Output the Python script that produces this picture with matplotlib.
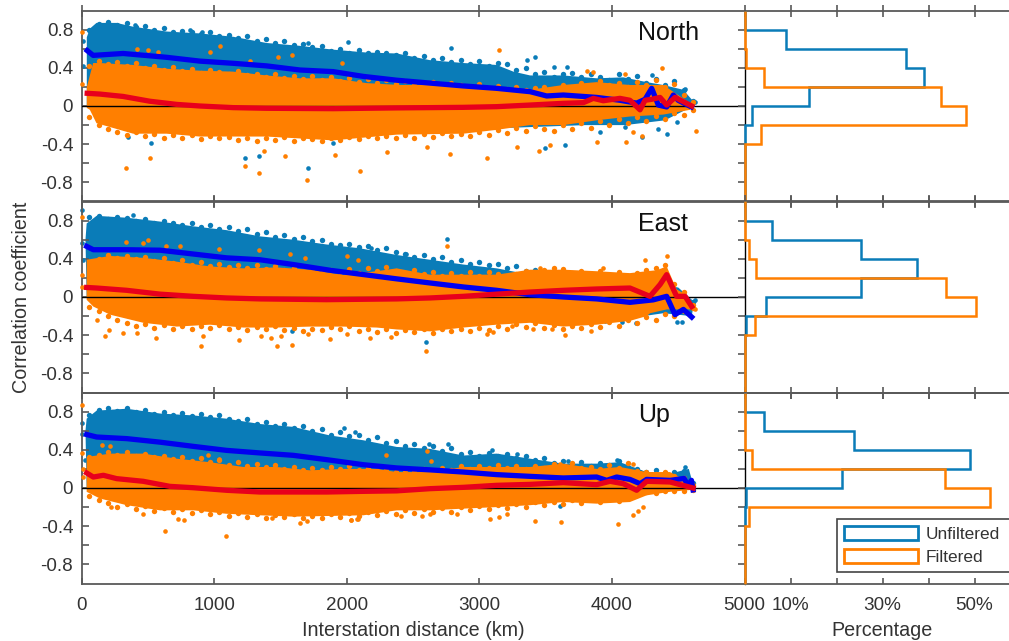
import matplotlib
matplotlib.use("Agg")
import matplotlib.pyplot as plt
from matplotlib.patches import Patch, Rectangle
from matplotlib.ticker import FixedLocator, FixedFormatter

plt.rcParams['font.family'] = ['Liberation Sans', 'DejaVu Sans']

# distances where the rough edge of each point cloud was read off
fringe_km = [60, 130, 200, 270, 340, 410, 480, 550, 620, 690, 760, 830, 900, 970, 1040, 1110, 1180, 1250, 1320, 1390, 1460, 1530, 1600, 1670, 1740, 1810, 1880, 1950, 2020, 2090, 2160, 2230, 2300, 2370, 2440, 2510, 2580, 2650, 2720, 2790, 2860, 2930, 3000, 3070, 3140, 3210, 3280, 3350, 3420, 3490, 3560, 3630, 3700, 3770, 3840, 3910, 3980, 4050, 4120, 4190, 4260, 4330, 4400, 4470, 4540, 4610]

# ---- North ----
n_bt_x = [40, 63, 113, 264, 390, 641, 892, 1144, 1395, 1647, 1898, 2149, 2377, 2628, 2880, 3130, 3257, 3383, 3634, 3885, 4086, 4262, 4387, 4538, 4613]
n_bt_y = [.72, .81, .87, .87, .83, .78, .76, .725, .66, .63, .59, .56, .55, .48, .45, .43, .36, .32, .32, .29, .30, .25, .22, .17, .05]
n_bb_x = [40, 113, 1000, 2000, 3000, 3400, 3800, 4100, 4400, 4613]
n_bb_y = [0, -.1, -.25, -.28, -.24, -.22, -.2, -.2, -.15, 0]
n_ot_x = [40, 88, 138, 390, 641, 892, 1144, 1395, 1647, 1898, 2149, 2400, 2628, 2880, 3130, 3383, 3634, 3885, 4136, 4387, 4590]
n_ot_y = [.2, .45, .45, .43, .39, .37, .36, .32, .29, .29, .24, .22, .22, .22, .185, .17, .22, .25, .22, .22, .03]
n_ob_x = [40, 63, 113, 390, 641, 892, 1395, 1898, 2377, 2880, 3130, 3383, 3634, 3885, 4136, 4387, 4590]
n_ob_y = [-.02, -.04, -.18, -.29, -.29, -.32, -.32, -.36, -.30, -.29, -.25, -.2, -.2, -.15, -.11, -.09, -.04]
n_fr_bt = [.80, .86, .88, .85, .87, .83, .84, .80, .82, .78, .79, .77, .75, .78, .73, .74, .71, .73, .68, .70, .66, .68, .64, .65, .62, .63, .58, .60, .56, .59, .55, .57, .56, .53, .55, .50, .52, .48, .50, .46, .48, .44, .47, .42, .45, .44, .38, .40, .33, .36, .30, .33, .35, .30, .34, .30, .27, .34, .28, .31, .24, .28, .22, .26, .17, .05]
n_fr_ot = [.42, .47, .44, .46, .42, .45, .40, .42, .38, .41, .37, .39, .35, .38, .36, .33, .37, .32, .34, .30, .33, .29, .31, .28, .31, .27, .30, .26, .29, .25, .28, .24, .27, .23, .26, .24, .22, .25, .21, .24, .22, .20, .23, .19, .21, .18, .20, .17, .19, .20, .18, .22, .19, .24, .21, .26, .22, .24, .20, .25, .22, .27, .20, .23, .12, .04]
n_fr_ob = [-.12, -.2, -.24, -.27, -.3, -.27, -.31, -.29, -.33, -.3, -.34, -.3, -.35, -.31, -.34, -.32, -.36, -.33, -.37, -.34, -.36, -.32, -.37, -.33, -.35, -.37, -.33, -.36, -.32, -.35, -.31, -.34, -.31, -.33, -.3, -.33, -.29, -.32, -.28, -.31, -.29, -.31, -.27, -.3, -.25, -.28, -.23, -.26, -.21, -.24, -.26, -.2, -.24, -.18, -.23, -.16, -.2, -.14, -.18, -.12, -.16, -.1, -.14, -.07, -.09, -.04]
n_line_b_x = [43, 88, 314, 641, 892, 1144, 1395, 1647, 1898, 2125, 2377, 2628, 2880, 3130, 3383, 3508, 3634, 3885, 4060, 4186, 4250, 4300, 4350, 4413, 4463, 4500, 4600]
n_line_b_y = [.58, .53, .55, .51, .47, .447, .42, .377, .36, .31, .27, .24, .21, .185, .15, .105, .115, .09, .06, .03, .07, .185, .01, -.01, .115, .06, -.01]
n_line_r_x = [43, 138, 314, 515, 716, 892, 1144, 1395, 1898, 2377, 2880, 3130, 3383, 3634, 3785, 3860, 3935, 4060, 4136, 4212, 4250, 4300, 4363, 4413, 4476, 4602]
n_line_r_y = [.133, .125, .1, .05, .017, 0, -.017, -.024, -.028, -.02, -.014, -.007, .01, .028, .035, .08, .055, .08, .06, -.04, .06, .07, .09, .01, .09, 0]
n_dots_o_x = [0, 0, 339, 520, 1232, 1335, 1704, 2099, 1533, 1378, 1043, 968, 415, 503, 578, 1270, 1483, 1584, 1961, 3149, 3056, 4632, 4375, 3810, 3860, 4100, 4106, 3453, 3533, 3282, 2779, 1912, 2301, 2603, 3885, 4225, 4162]
n_dots_o_y = [.78, .23, -.645, -.54, -.625, -.70, -.78, -.68, -.52, -.47, .63, .57, .6, .59, .57, .475, .515, .53, .45, .586, -.54, -.265, .40, .366, .36, .34, -.38, -.475, -.41, -.426, -.506, -.51, -.478, -.426, -.373, -.314, -.27]
n_dots_b_x = [10, 10, 400, 817, 905, 1710, 2011, 1232, 1337, 1710, 523, 352, 1898, 2784, 3420, 3357, 3563, 3664, 3646, 3495, 4488, 4413, 4350, 4225, 4099, 3910, 4300, 4551, 4627]
n_dots_b_y = [.68, .42, .85, .80, .77, .656, .67, -.548, -.52, -.653, -.39, -.32, -.39, .61, .51, .48, .41, .405, -.41, -.436, -.164, -.29, -.244, -.32, -.216, -.27, .325, .178, .04]

# ---- East ----
e_bt_x = [30, 39, 114, 341, 592, 843, 1094, 1346, 1597, 1848, 2100, 2377, 2628, 2880, 3131, 3383, 3634, 4500, 4620]
e_bt_y = [.6, .77, .85, .83, .79, .74, .70, .635, .60, .55, .51, .44, .39, .34, .30, .234, .18, .1, -.05]
e_bb_x = [39, 500, 1500, 2500, 3383, 3634, 3885, 4136, 4388, 4602]
e_bb_y = [0, -.2, -.28, -.3, -.2, -.24, -.22, -.22, -.17, -.2]
e_ot_x = [39, 215, 466, 718, 969, 1221, 1472, 1723, 1975, 2226, 2377, 2628, 2880, 3131, 3383, 3634, 3885, 4136, 4262, 4337, 4413, 4488, 4564, 4602]
e_ot_y = [.39, .43, .41, .37, .32, .30, .31, .286, .23, .27, .30, .234, .234, .234, .286, .286, .27, .25, .27, .28, .32, .08, .02, -.1]
e_ob_x = [39, 89, 215, 466, 718, 969, 1221, 1472, 1723, 1975, 2226, 2377, 2628, 2880, 3131, 3383, 3634, 3885, 4136, 4262, 4288, 4413, 4602]
e_ob_y = [-.03, -.1, -.185, -.27, -.31, -.29, -.32, -.32, -.31, -.31, -.32, -.34, -.36, -.32, -.29, -.27, -.31, -.29, -.25, -.2, -.17, -.13, -.13]
e_fr_bt = [.84, .85, .82, .84, .83, .80, .82, .78, .80, .77, .75, .78, .73, .75, .71, .73, .69, .71, .66, .68, .63, .65, .61, .63, .59, .6, .56, .54, .56, .52, .53, .49, .51, .47, .45, .42, .44, .40, .42, .37, .39, .35, .37, .33, .35, .3, .32, .27, .28, .24, .2, .15, .15, .1, .1, .08, .08, .08, .06, .05, .1, .1, .1, .08, .0, -.05]
e_fr_ot = [.36, .4, .44, .41, .43, .4, .42, .38, .41, .36, .39, .34, .37, .32, .35, .31, .34, .3, .33, .29, .32, .28, .3, .26, .29, .25, .28, .26, .29, .25, .3, .27, .31, .27, .25, .28, .24, .26, .22, .25, .22, .26, .22, .26, .24, .2, .24, .27, .23, .28, .3, .29, .25, .27, .24, .27, .23, .26, .22, .25, .28, .3, .34, .14, .05, -.08]
e_fr_ob = [-.1, -.15, -.2, -.24, -.27, -.3, -.28, -.32, -.29, -.33, -.3, -.34, -.3, -.32, -.29, -.33, -.31, -.35, -.31, -.34, -.3, -.35, -.32, -.36, -.33, -.35, -.31, -.34, -.3, -.36, -.33, -.37, -.34, -.38, -.35, -.37, -.33, -.38, -.34, -.36, -.33, -.36, -.32, -.35, -.3, -.33, -.28, -.31, -.27, -.32, -.29, -.33, -.3, -.32, -.28, -.31, -.26, -.3, -.24, -.27, -.21, -.24, -.18, -.2, -.15, -.12]
e_line_b_x = [39, 89, 341, 592, 843, 1094, 1346, 1597, 1874, 2125, 2377, 2628, 2880, 3131, 3383, 3634, 3885, 4136, 4312, 4413, 4476, 4539, 4602]
e_line_b_y = [.53, .495, .495, .49, .45, .41, .39, .34, .28, .235, .19, .147, .105, .07, .024, 0, -.02, -.056, -.03, .007, -.185, -.13, -.21]
e_line_r_x = [39, 114, 341, 592, 843, 1094, 1346, 1848, 2377, 2628, 2880, 3131, 3383, 3634, 3885, 4136, 4287, 4363, 4413, 4488, 4552, 4602]
e_line_r_y = [.10, .094, .07, .03, .007, -.01, -.02, -.028, -.02, -.01, .007, .03, .052, .07, .084, .094, .007, .13, .234, .007, .007, -.1]
e_dots_o_x = [0, 0, 0, 336, 466, 504, 637, 743, 1037, 1339, 1572, 1686, 2000, 2088, 177, 207, 119, 311, 416, 562, 901, 919, 1190, 1354, 1427, 1472, 1502, 1585, 1711, 1875, 2005, 2177, 2334, 2754, 2598, 3056, 3106, 3244, 3646, 3840, 3546, 3402, 4250, 4413, 3458, 3935, 4627]
e_dots_o_y = [.84, .234, .1, .58, .57, .593, .53, .53, .5, .49, .45, .41, .43, .39, -.41, -.35, -.24, -.38, -.38, -.43, -.51, -.405, -.447, -.41, -.43, -.517, -.405, -.506, -.387, -.436, -.387, -.43, -.42, .5375, -.57, -.387, -.367, -.307, -.4, -.36, -.335, -.335, .39, .426, .30, .30, -.13]
e_dots_b_x = [0, 0, 14, 390, 1585, 2754, 2598, 2181, 2447, 4627, 4526, 4488, 4074, 3948, 4182]
e_dots_b_y = [.915, .565, .39, .86, -.36, .607, -.468, .51, .45, -.035, -.265, -.265, -.265, -.255, -.27]

# ---- Up ----
u_bt_x = [30, 39, 114, 341, 592, 843, 1094, 1346, 1597, 1874, 2125, 2377, 2628, 2880, 3131, 3383, 3634, 3885, 4061, 4262, 4438, 4580, 4610]
u_bt_y = [.6, .726, .81, .83, .78, .76, .726, .67, .64, .55, .5, .43, .41, .34, .36, .307, .255, .255, .27, .167, .15, .2, .05]
u_bb_x = [39, 500, 1500, 2500, 3500, 4036, 4136, 4262, 4438, 4600]
u_bb_y = [0, -.15, -.25, -.2, -.12, -.13, -.13, -.05, -.02, -.02]
u_ot_x = [39, 215, 466, 718, 969, 1221, 1472, 1723, 1975, 2226, 2377, 2628, 2880, 3131, 3383, 3634, 3885, 4061, 4262, 4438, 4600]
u_ot_y = [.325, .36, .36, .307, .27, .22, .22, .185, .2, .2, .167, .167, .22, .22, .22, .255, .2, .22, .167, .167, .05]
u_ob_x = [39, 139, 341, 592, 843, 1094, 1346, 1597, 2125, 2377, 2628, 2880, 3131, 3383, 3634, 3885, 4136, 4262, 4438, 4600]
u_ob_y = [-.04, -.11, -.18, -.234, -.234, -.27, -.286, -.30, -.286, -.234, -.234, -.216, -.2, -.18, -.147, -.164, -.147, -.077, -.04, -.02]
u_fr_bt = [.76, .82, .84, .81, .84, .8, .82, .78, .8, .76, .79, .75, .77, .74, .76, .72, .7, .72, .67, .69, .65, .67, .63, .65, .6, .62, .56, .59, .54, .56, .5, .53, .47, .49, .44, .46, .42, .44, .39, .42, .36, .38, .34, .37, .33, .36, .31, .34, .29, .31, .26, .28, .25, .27, .23, .26, .24, .28, .22, .2, .17, .19, .16, .17, .18, .05]
u_fr_ot = [.32, .35, .38, .35, .38, .34, .36, .32, .34, .3, .32, .28, .31, .27, .29, .24, .27, .23, .25, .22, .24, .2, .22, .19, .21, .19, .22, .2, .23, .19, .21, .18, .2, .17, .19, .17, .2, .18, .21, .19, .23, .2, .23, .21, .24, .21, .23, .2, .23, .21, .25, .22, .26, .21, .22, .2, .24, .21, .26, .18, .17, .15, .17, .13, .1, .03]
u_fr_ob = [-.08, -.13, -.16, -.2, -.17, -.22, -.19, -.24, -.21, -.25, -.22, -.26, -.23, -.27, -.25, -.29, -.26, -.3, -.27, -.31, -.28, -.3, -.27, -.31, -.29, -.31, -.27, -.3, -.26, -.29, -.25, -.28, -.24, -.27, -.23, -.26, -.22, -.25, -.21, -.25, -.2, -.23, -.19, -.22, -.18, -.21, -.17, -.2, -.15, -.18, -.15, -.17, -.13, -.16, -.12, -.15, -.1, -.14, -.09, -.07, -.04, -.05, -.03, -.03, -.03, -.02]
u_line_b_x = [39, 114, 341, 592, 843, 1094, 1346, 1597, 1848, 2125, 2377, 2628, 2880, 3131, 3383, 3634, 3885, 3961, 4036, 4136, 4212, 4262, 4438, 4545, 4575, 4600, 4612]
u_line_b_y = [.56, .534, .517, .48, .436, .394, .367, .342, .297, .244, .21, .19, .167, .14, .122, .105, .115, .08, .115, .09, .045, .09, .08, .1, .02, .08, -.02]
u_line_r_x = [39, 89, 165, 265, 466, 667, 843, 1094, 1346, 1848, 2125, 2377, 2628, 2880, 3131, 3383, 3634, 3885, 3986, 4086, 4187, 4262, 4438, 4612]
u_line_r_y = [.157, .115, .133, .098, .07, .017, .003, -.024, -.042, -.042, -.035, -.03, -.007, .007, .028, .038, .056, .035, .07, .045, -.024, .07, .063, 0]
u_dots_o_x = [0, 0, 14, 14, 630, 1087, 461, 730, 773, 222, 1434, 1648, 1703, 2033, 2083, 152, 215, 957, 1037, 2294, 2633, 2608, 2032, 2080, 2407, 2570, 2628, 2829, 3081, 3151, 3206, 3420, 3614, 4044, 4157, 4200, 4237, 4162, 3609]
u_dots_o_y = [.866, .366, .2, .115, -.454, -.5, -.276, -.328, -.34, -.2, -.314, -.366, -.35, -.34, -.32, .447, .44, .35, .307, .342, .28, .384, -.34, -.325, -.293, -.297, -.27, -.27, -.32, -.304, -.27, -.35, -.356, -.373, -.28, -.244, -.2, .255, .255]
u_dots_b_x = [0, 0, 26, 1982, 2063, 2623, 2766, 3098, 3282, 3672, 4036, 3609, 4074, 4212, 4555]
u_dots_b_y = [.68, .57, .29, .628, .586, .457, .457, .394, .352, .283, .297, -.188, -.12, .167, .22]

# histogram bins, from -1 to 1 by 0.2, values in percent
hist_edges = [-1, -.8, -.6, -.4, -.2, 0, .2, .4, .6, .8, 1]
n_hist_b = [0, 0, 0, 0, 1.6, 14.1, 39.1, 35.1, 9.1, 0]
n_hist_o = [0, 0, 0, 3.6, 48.2, 42.8, 4.2, .3, 0, 0]
e_hist_b = [0, 0, 0, .3, 4.6, 25.4, 37.6, 25.4, 5.9, 0]
e_hist_o = [0, 0, 0, 2.2, 50.4, 43.9, 2.6, 1.0, 0, 0]
u_hist_b = [0, 0, 0, .1, .4, 21.3, 49.0, 23.9, 4.3, 0]
u_hist_o = [0, 0, 0, 1.0, 53.3, 43.5, 1.7, 0, 0, 0]

panel_names = ["North", "East", "Up"]
ytick_vals = [-.8, -.4, 0, .4, .8]
ytick_labels = ["-0.8", "-0.4", "0", "0.4", "0.8"]
ytick_minor = [-.8, -.6, -.4, -.2, 0, .2, .4, .6, .8]
xtick_vals = [0, 1000, 2000, 3000, 4000, 5000]
hist_ticks = [10, 20, 30, 40, 50]

BLUE = "#0a7cb8"
ORANGE = "#ff7f00"
LINE_BLUE = "#0000f0"
LINE_RED = "#e8001c"
AXC = "#595959"
TXT = "#333333"
W, H = 1009, 641


def panel_rect(left, right, top, bottom):
    return [left / W, 1 - bottom / H, (right - left) / W, (bottom - top) / H]


def cloud(ax, top_x, top_y, bot_x, bot_y, color, z):
    # closed outline of the dense point cloud
    ax.fill(list(top_x) + list(bot_x)[::-1], list(top_y) + list(bot_y)[::-1],
            color=color, lw=0, zorder=z)


fig = plt.figure(figsize=(W / 100, H / 100), dpi=100)

tops = [10.5, 201.5, 392.5]
clouds = [
    (n_bt_x, n_bt_y, n_bb_x, n_bb_y, n_ot_x, n_ot_y, n_ob_x, n_ob_y),
    (e_bt_x, e_bt_y, e_bb_x, e_bb_y, e_ot_x, e_ot_y, e_ob_x, e_ob_y),
    (u_bt_x, u_bt_y, u_bb_x, u_bb_y, u_ot_x, u_ot_y, u_ob_x, u_ob_y),
]
fringes = [(n_fr_bt, n_fr_ot, n_fr_ob), (e_fr_bt, e_fr_ot, e_fr_ob), (u_fr_bt, u_fr_ot, u_fr_ob)]
dots = [
    (n_dots_b_x, n_dots_b_y, n_dots_o_x, n_dots_o_y),
    (e_dots_b_x, e_dots_b_y, e_dots_o_x, e_dots_o_y),
    (u_dots_b_x, u_dots_b_y, u_dots_o_x, u_dots_o_y),
]
means = [
    (n_line_b_x, n_line_b_y, n_line_r_x, n_line_r_y),
    (e_line_b_x, e_line_b_y, e_line_r_x, e_line_r_y),
    (u_line_b_x, u_line_b_y, u_line_r_x, u_line_r_y),
]
hists = [(n_hist_b, n_hist_o), (e_hist_b, e_hist_o), (u_hist_b, u_hist_o)]

for i in range(3):
    ax = fig.add_axes(panel_rect(81.5, 744.5, tops[i], tops[i] + 191))
    hx = fig.add_axes(panel_rect(744.5, 1009, tops[i], tops[i] + 191))

    bt_x, bt_y, bb_x, bb_y, ot_x, ot_y, ob_x, ob_y = clouds[i]
    fr_bt, fr_ot, fr_ob = fringes[i]
    db_x, db_y, do_x, do_y = dots[i]

    cloud(ax, bt_x, bt_y, bb_x, bb_y, BLUE, 1)
    ax.scatter(fringe_km, fr_bt, s=15, color=BLUE, lw=0, zorder=2)
    ax.scatter(db_x, db_y, s=11, color=BLUE, lw=0, zorder=2, clip_on=False)
    cloud(ax, ot_x, ot_y, ob_x, ob_y, ORANGE, 3)
    ax.scatter(fringe_km, fr_ot, s=15, color=ORANGE, lw=0, zorder=3)
    ax.scatter(fringe_km, fr_ob, s=15, color=ORANGE, lw=0, zorder=3)
    ax.scatter(do_x, do_y, s=11, color=ORANGE, lw=0, zorder=3, clip_on=False)
    ax.axhline(0, color="black", lw=1, zorder=4)
    lb_x, lb_y, lr_x, lr_y = means[i]
    ax.plot(lb_x, lb_y, color=LINE_BLUE, lw=3.8, zorder=5, solid_joinstyle="round")
    ax.plot(lr_x, lr_y, color=LINE_RED, lw=3.8, zorder=6, solid_joinstyle="round")

    ax.set_xlim(0, 5000)
    ax.set_ylim(-1, 1)
    ax.yaxis.set_major_locator(FixedLocator(ytick_minor))
    ax.yaxis.set_major_formatter(FixedFormatter(
        [ytick_labels[ytick_vals.index(v)] if v in ytick_vals else "" for v in ytick_minor]))
    ax.set_xticks(xtick_vals)
    ax.tick_params(axis="y", direction="in", length=5, width=1.2, color=AXC,
                   labelsize=13.6, labelcolor=TXT, pad=6)
    ax.tick_params(axis="x", direction="in", length=4.5, width=1.2, color=AXC,
                   top=True, labelsize=13.6, labelcolor=TXT, pad=10)
    if i < 2:
        ax.tick_params(axis="x", labelbottom=False, direction="inout", length=9, top=True)
    for s in ["top", "bottom", "left"]:
        ax.spines[s].set_color(AXC)
        ax.spines[s].set_linewidth(1.3)
    ax.spines["right"].set_visible(False)
    ax.text(0.839, 0.88, panel_names[i], transform=ax.transAxes, fontsize=18,
            color="#111111", ha="left", va="center", zorder=8)
    ax.patch.set_alpha(0)

    hist_b, hist_o = hists[i]
    hx.stairs(hist_b, hist_edges, orientation="horizontal", baseline=0, fill=False,
              color=BLUE, lw=1.8, zorder=3, clip_on=False)
    hx.stairs(hist_o, hist_edges, orientation="horizontal", baseline=0, fill=False,
              color=ORANGE, lw=1.8, zorder=4, clip_on=False)
    hx.set_xlim(0, 57.5)
    hx.set_ylim(-1, 1)
    hx.set_yticks(ytick_minor)
    hx.tick_params(axis="y", direction="out", length=5, width=1.2, color=AXC,
                   labelleft=False)
    hx.set_xticks(hist_ticks)
    hx.tick_params(axis="x", direction="in", length=4.5, width=1.2, color=AXC,
                   top=True, labelbottom=False)
    if i < 2:
        hx.tick_params(axis="x", direction="inout", length=9)
    for s in ["top", "bottom"]:
        hx.spines[s].set_color(AXC)
        hx.spines[s].set_linewidth(1.3)
    hx.spines["right"].set_visible(False)
    hx.spines["left"].set_color("black")
    hx.spines["left"].set_linewidth(1)
    hx.patch.set_alpha(0)

    if i == 1:
        ax.set_ylabel("Correlation coefficient", fontsize=14.2, color=TXT, labelpad=6.5)
    if i == 2:
        ax.set_xlabel("Interstation distance (km)", fontsize=14.2, color=TXT, labelpad=5)
        hx.set_xticks(hist_ticks)
        hx.set_xticklabels(["10%", "", "30%", "", "50%"])
        hx.tick_params(axis="x", labelbottom=True, labelsize=13.6, labelcolor=TXT, pad=10)
        hx.set_xlabel("Percentage", fontsize=14.2, color=TXT, labelpad=5, x=0.52)

# legend box runs off the right edge of the figure
fig.add_artist(Rectangle((836.5 / W, 1 - 572 / H), 190 / W, 53 / H, transform=fig.transFigure,
                         facecolor="white", edgecolor="#444444", lw=1.2, zorder=19))
handles = [Patch(facecolor="white", edgecolor=BLUE, lw=2, label="Unfiltered"),
           Patch(facecolor="white", edgecolor=ORANGE, lw=2, label="Filtered")]
leg = fig.legend(handles=handles, loc="lower left",
                 bbox_to_anchor=(837 / W, 1 - 572 / H), borderaxespad=0,
                 fontsize=12.4, frameon=False,
                 handlelength=4.3, handleheight=0.87, handletextpad=0.4,
                 labelspacing=0.4, borderpad=0.42, labelcolor=TXT)
leg.set_zorder(20)

fig.savefig("out.png", dpi=100)
